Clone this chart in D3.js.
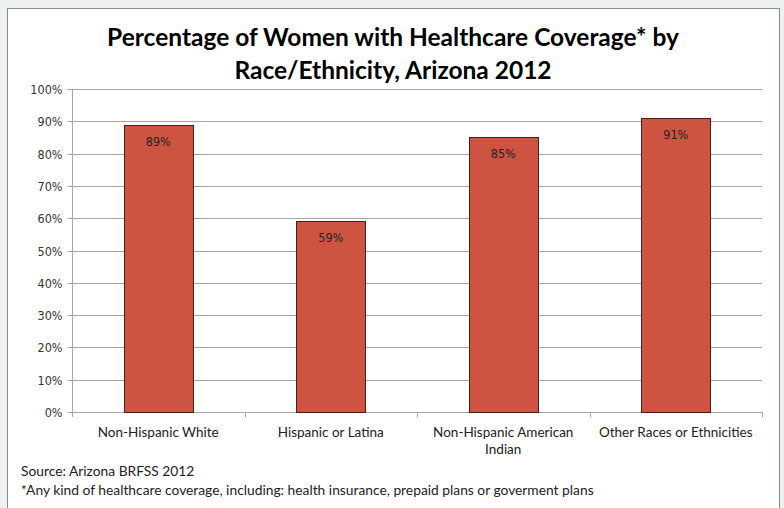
<!DOCTYPE html>
<html>
<head>
<meta charset="utf-8">
<script src="https://cdn.jsdelivr.net/npm/d3@7"></script>
<style>
  html, body { margin: 0; padding: 0; background: #eef1f2; }
  svg { display: block; }
</style>
</head>
<body>
<svg id="chart" width="784" height="508"></svg>
<script>
// Healthcare coverage among women by race/ethnicity, Arizona 2012
const categories = [
  ["Non-Hispanic White"],
  ["Hispanic or Latina"],
  ["Non-Hispanic American", "Indian"],
  ["Other Races or Ethnicities"]
];
const coverage = [89, 59, 85, 91];
const yTicks = [0, 10, 20, 30, 40, 50, 60, 70, 80, 90, 100];
const titleLines = ["Percentage of Women with Healthcare Coverage* by", "Race/Ethnicity, Arizona 2012"];
const notes = ["Source: Arizona BRFSS 2012", "*Any kind of healthcare coverage, including: health insurance, prepaid plans or goverment plans"];

const svg = d3.select("#chart");
const smallFont = "'DejaVu Sans Condensed', 'DejaVu Sans', sans-serif";
const textFont = "Lato, 'Open Sans', sans-serif";

// white chart panel
svg.append("rect")
  .attr("x", 7.5).attr("y", 8.5)
  .attr("width", 772).attr("height", 510)
  .attr("fill", "#ffffff").attr("stroke", "#8c8c8c").attr("stroke-width", 1);

const plot = { left: 72, right: 762, top: 89, bottom: 412 };

const x = d3.scaleBand()
  .domain(d3.range(categories.length))
  .range([plot.left, plot.right])
  .paddingInner(0).paddingOuter(0);

const y = d3.scaleLinear().domain([0, 100]).range([plot.bottom, plot.top]);

// title
svg.append("g").selectAll("text")
  .data(titleLines)
  .join("text")
  .attr("x", 393)
  .attr("y", (d, i) => 46 + i * 33)
  .attr("text-anchor", "middle")
  .attr("font-family", textFont)
  .attr("font-weight", "bold")
  .attr("font-size", 24.5)
  .attr("fill", "#000")
  .text(d => d);

// horizontal gridlines
svg.append("g").selectAll("line")
  .data(yTicks.filter(t => t > 0))
  .join("line")
  .attr("x1", plot.left).attr("x2", plot.right)
  .attr("y1", d => Math.round(y(d)) + 0.5).attr("y2", d => Math.round(y(d)) + 0.5)
  .attr("stroke", "#a6a6a6").attr("stroke-width", 1);

// y axis
const yAxis = d3.axisLeft(y)
  .tickValues(yTicks)
  .tickFormat(d => d + "%")
  .tickSize(5)
  .tickPadding(5);
const gy = svg.append("g")
  .attr("transform", `translate(${plot.left + 0.5},0.5)`)
  .call(yAxis);
gy.select(".domain").attr("stroke", "#a6a6a6").attr("d", `M-5,${y(100)}H0V${y(0)}`);
gy.selectAll(".tick line").attr("stroke", "#a6a6a6");
gy.selectAll(".tick").attr("transform", d => `translate(0,${Math.round(y(d))})`);
gy.selectAll(".tick text")
  .attr("font-family", smallFont)
  .attr("font-size", 12.5)
  .attr("fill", "#333");

// x axis baseline with category boundary ticks
const gx = svg.append("g");
gx.append("line")
  .attr("x1", plot.left).attr("x2", plot.right)
  .attr("y1", plot.bottom + 0.5).attr("y2", plot.bottom + 0.5)
  .attr("stroke", "#a6a6a6");
gx.selectAll("line.tk")
  .data(d3.range(categories.length + 1))
  .join("line")
  .attr("class", "tk")
  .attr("x1", i => Math.round(plot.left + i * x.bandwidth()) + 0.5)
  .attr("x2", i => Math.round(plot.left + i * x.bandwidth()) + 0.5)
  .attr("y1", plot.bottom).attr("y2", plot.bottom + 5)
  .attr("stroke", "#a6a6a6");

// bars
const barW = x.bandwidth() * 0.4;
svg.append("g").selectAll("rect")
  .data(coverage)
  .join("rect")
  .attr("x", (d, i) => Math.round(x(i) + (x.bandwidth() - barW) / 2) + 0.5)
  .attr("y", d => Math.round(y(d)) + 0.5)
  .attr("width", Math.round(barW))
  .attr("height", d => Math.round(y(0)) - Math.round(y(d)))
  .attr("fill", "#cd5441")
  .attr("stroke", "#4a1e16")
  .attr("stroke-width", 1);

// value labels
svg.append("g").selectAll("text")
  .data(coverage)
  .join("text")
  .attr("x", (d, i) => x(i) + x.bandwidth() / 2)
  .attr("y", d => y(d) + 21)
  .attr("text-anchor", "middle")
  .attr("font-family", smallFont)
  .attr("font-size", 12.5)
  .attr("fill", "#222")
  .text(d => d + "%");

// category labels
const cl = svg.append("g").selectAll("text")
  .data(categories)
  .join("text")
  .attr("x", (d, i) => x(i) + x.bandwidth() / 2)
  .attr("y", 437)
  .attr("text-anchor", "middle")
  .attr("font-family", textFont)
  .attr("font-size", 13.5)
  .attr("fill", "#222");
cl.selectAll("tspan")
  .data(d => d)
  .join("tspan")
  .attr("x", function() { return d3.select(this.parentNode).attr("x"); })
  .attr("dy", (d, i) => i === 0 ? 0 : 17)
  .text(d => d);

// source and footnote
svg.append("g").selectAll("text")
  .data(notes)
  .join("text")
  .attr("x", 21)
  .attr("y", (d, i) => 476 + i * 19)
  .attr("font-family", textFont)
  .attr("font-size", 13.8)
  .attr("fill", "#222")
  .text(d => d);
</script>
</body>
</html>
